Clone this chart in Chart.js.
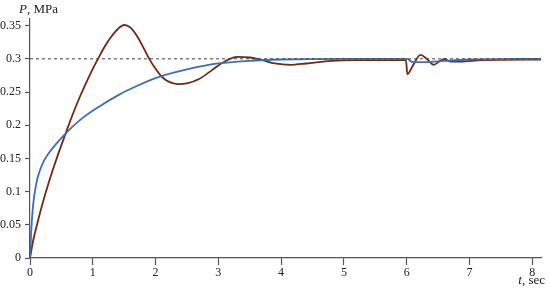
<!DOCTYPE html>
<html lang="en">
<head>
    <meta charset="UTF-8">
    <title>P(t)</title>
    <script src="https://cdn.jsdelivr.net/npm/chart.js"></script>
    <style>
        html, body { margin: 0; padding: 0; background: #fff; }
        .wrap { position: relative; width: 550px; height: 289px; }
        .lbl { position: absolute; font-family: "Liberation Serif", "Times New Roman", serif; font-size: 13px; color: #222; white-space: nowrap; }
        #yTitle { left: 19px; top: 1px; }
        #xTitle { right: 5px; top: 272px; }
    </style>
</head>
<body>
    <div class="wrap">
        <canvas id="chart" width="550" height="289"></canvas>
        <div class="lbl" id="yTitle"><i>P</i>, MPa</div>
        <div class="lbl" id="xTitle"><i>t</i>, sec</div>
    </div>
    <script>
        // blue curve (smooth first-order response)
        const blueT = [0, 0.02, 0.05, 0.1, 0.15, 0.22, 0.3, 0.4, 0.55, 0.8, 1.1, 1.4, 1.7, 2.0, 2.5, 3.0, 3.5, 4.0, 5.0, 6.0, 6.1, 6.3, 6.6, 7.0, 8.15];
        const blueP = [0, 0.042, 0.08, 0.112, 0.13, 0.146, 0.158, 0.170, 0.186, 0.208, 0.228, 0.245, 0.259, 0.271, 0.284, 0.293, 0.297, 0.299, 0.300, 0.300, 0.295, 0.295, 0.297, 0.299, 0.300];

        // brown curve (oscillating response)
        const brownT = [0, 0.05, 0.1, 0.2, 0.3, 0.4, 0.5, 0.6, 0.7, 0.8, 0.9, 1.0, 1.1, 1.2, 1.3, 1.4, 1.5, 1.6, 1.7, 1.8, 1.9, 2.0, 2.1, 2.2, 2.35, 2.5, 2.7, 2.9, 3.1, 3.3, 3.5, 3.7, 3.9, 4.15, 4.4, 4.8, 5.2, 5.99, 6.01, 6.1, 6.22, 6.32, 6.43, 6.52, 6.6, 6.7, 6.85, 7.2, 8.15];
        const brownP = [0, 0.026, 0.046, 0.082, 0.114, 0.143, 0.170, 0.196, 0.221, 0.244, 0.265, 0.285, 0.303, 0.320, 0.334, 0.345, 0.351, 0.347, 0.335, 0.318, 0.300, 0.285, 0.273, 0.266, 0.262, 0.263, 0.270, 0.283, 0.296, 0.303, 0.302, 0.298, 0.293, 0.291, 0.293, 0.297, 0.298, 0.298, 0.277, 0.290, 0.306, 0.300, 0.291, 0.296, 0.300, 0.296, 0.296, 0.298, 0.299];

        // reference level
        const refT = [0, 8.15];
        const refP = [0.3, 0.3];

        const xTicks = [0, 1, 2, 3, 4, 5, 6, 7, 8];
        const yTicks = [0, 0.05, 0.1, 0.15, 0.2, 0.25, 0.3, 0.35];

        const pts = (xs, ys) => xs.map((x, i) => ({ x: x, y: ys[i] }));

        const font = { family: '"Liberation Serif", "Times New Roman", serif', size: 12 };

        new Chart(document.getElementById('chart'), {
            type: 'line',
            data: {
                datasets: [
                    {
                        data: pts(refT, refP),
                        borderColor: '#444',
                        borderWidth: 1,
                        borderDash: [3, 3],
                        pointRadius: 0
                    },
                    {
                        data: pts(blueT, blueP),
                        borderColor: '#3f6db5',
                        borderWidth: 1.8,
                        pointRadius: 0,
                        cubicInterpolationMode: 'monotone'
                    },
                    {
                        data: pts(brownT, brownP),
                        borderColor: '#6e2a12',
                        borderWidth: 1.8,
                        pointRadius: 0,
                        cubicInterpolationMode: 'monotone'
                    }
                ]
            },
            options: {
                responsive: false,
                animation: false,
                events: [],
                layout: { padding: { top: 19, right: 9, bottom: 0, left: 0 } },
                plugins: { legend: { display: false }, tooltip: { enabled: false } },
                scales: {
                    x: {
                        type: 'linear',
                        min: 0,
                        max: 8.14,
                        afterFit: s => { s.height = 31; },
                        afterBuildTicks: s => { s.ticks = xTicks.map(v => ({ value: v })); },
                        border: { color: '#555', width: 1.2 },
                        grid: { drawOnChartArea: false, tickLength: 7, color: '#555', tickWidth: 1.2 },
                        ticks: { font: font, color: '#222', padding: 1, maxRotation: 0 }
                    },
                    y: {
                        min: 0,
                        max: 0.36,
                        afterFit: s => { s.width = 30; },
                        afterBuildTicks: s => { s.ticks = yTicks.map(v => ({ value: v })); },
                        border: { color: '#555', width: 1.2 },
                        grid: { drawOnChartArea: false, tickLength: 5, color: '#555', tickWidth: 1.2 },
                        ticks: { font: font, color: '#222', padding: 4, callback: v => String(Math.round(v * 100) / 100) }
                    }
                }
            }
        });
    </script>
</body>
</html>
